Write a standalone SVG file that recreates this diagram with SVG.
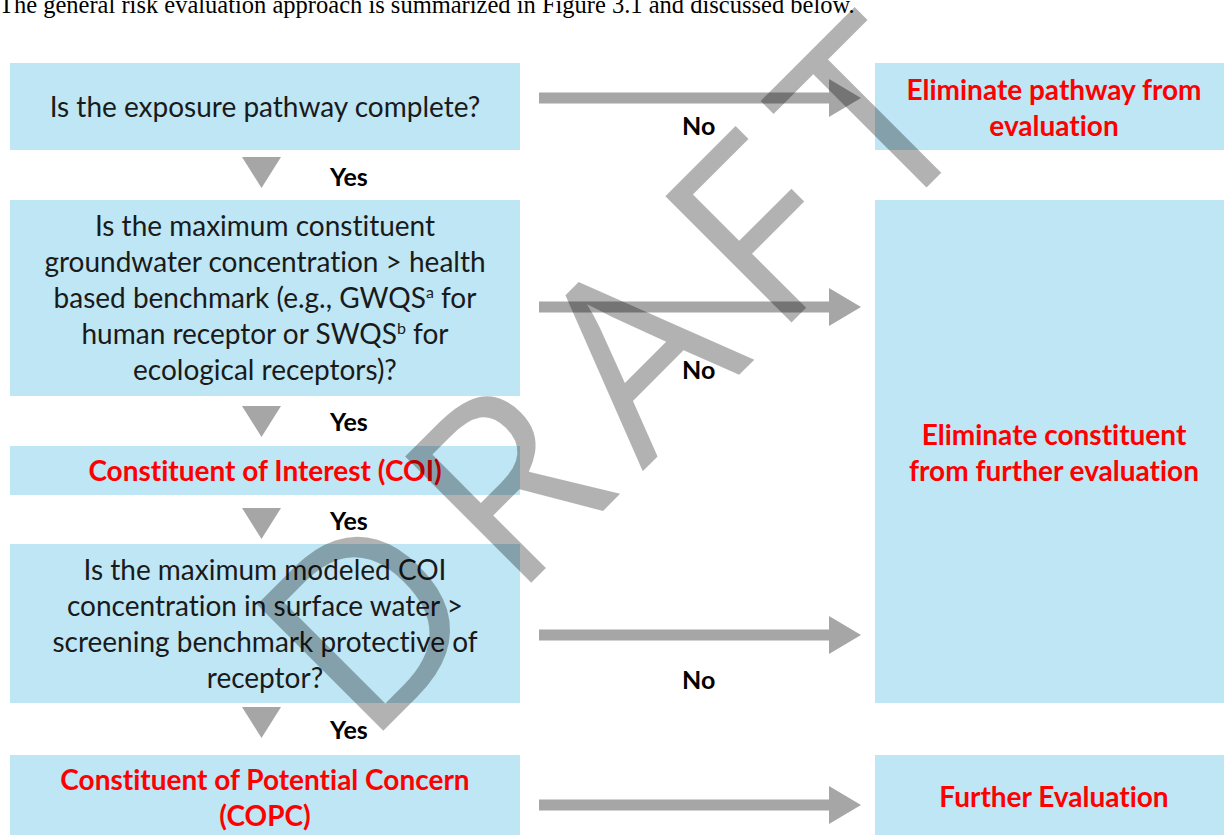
<svg xmlns="http://www.w3.org/2000/svg" xmlns:xlink="http://www.w3.org/1999/xlink" width="1224" height="835" viewBox="0 0 1224 835">
  <style>
    .box { fill: #BEE6F4; }
    .q { font-family: Lato, "Open Sans", "Liberation Sans", sans-serif; font-size: 28px; fill: #1a1a1a; text-anchor: middle; font-variant-ligatures: none; }
    .r { font-family: Lato, "Open Sans", "Liberation Sans", sans-serif; font-size: 28px; font-weight: bold; fill: #FF0000; text-anchor: middle; font-variant-ligatures: none; }
    .lbl { font-family: Lato, "Open Sans", "Liberation Sans", sans-serif; font-size: 25px; font-weight: bold; fill: #000; }
    .arw { fill: #A6A6A6; }
    .wm { font-family: "Open Sans", Lato, "Liberation Sans", sans-serif; font-weight: 400; font-size: 250px; fill: #000; fill-opacity: 0.3; }
    .cap { font-family: "Liberation Serif", serif; font-size: 24.5px; fill: #000; }
  </style>
  <defs>
    <path id="harrow" d="M0,-5.5 H290 V-19 L322,0 L290,19 V5.5 H0 Z"/>
    <path id="varrow" d="M0,0 H39 L19.5,31 Z"/>
  </defs>
  <rect width="1224" height="835" fill="#fff"/>
  <text class="cap" x="-1" y="13">The general risk evaluation approach is summarized in Figure 3.1 and discussed below.</text>

  <g id="n1">
    <rect class="box" x="10" y="63" width="510" height="87"/>
    <text class="q" x="265" y="117">Is the exposure pathway complete?</text>
  </g>
  <g id="n2">
    <rect class="box" x="875" y="63" width="349" height="87"/>
    <text class="r" x="1054" y="100">Eliminate pathway from</text>
    <text class="r" x="1054" y="136">evaluation</text>
  </g>
  <g id="n3">
    <rect class="box" x="10" y="200" width="510" height="196"/>
    <text class="q" x="265" y="236">Is the maximum constituent</text>
    <text class="q" x="265" y="272">groundwater concentration &gt; health</text>
    <text class="q" x="265" y="308">based benchmark (e.g., GWQS<tspan font-size="16" dy="-10">a</tspan><tspan dy="10"> for</tspan></text>
    <text class="q" x="265" y="344">human receptor or SWQS<tspan font-size="16" dy="-10">b</tspan><tspan dy="10"> for</tspan></text>
    <text class="q" x="265" y="380">ecological receptors)?</text>
  </g>
  <g id="n4">
    <rect class="box" x="875" y="200" width="349" height="503"/>
    <text class="r" x="1054" y="445">Eliminate constituent</text>
    <text class="r" x="1054" y="481">from further evaluation</text>
  </g>
  <g id="n5">
    <rect class="box" x="10" y="446" width="510" height="49"/>
    <text class="r" x="265" y="481">Constituent of Interest (COI)</text>
  </g>
  <g id="n6">
    <rect class="box" x="10" y="544" width="510" height="159"/>
    <text class="q" x="265" y="580">Is the maximum modeled COI</text>
    <text class="q" x="265" y="616">concentration in surface water &gt;</text>
    <text class="q" x="265" y="652">screening benchmark protective of</text>
    <text class="q" x="265" y="688">receptor?</text>
  </g>
  <g id="n7">
    <rect class="box" x="10" y="755" width="510" height="80"/>
    <text class="r" x="265" y="790">Constituent of Potential Concern</text>
    <text class="r" x="265" y="826">(COPC)</text>
  </g>
  <g id="n8">
    <rect class="box" x="875" y="755" width="349" height="80"/>
    <text class="r" x="1054" y="807">Further Evaluation</text>
  </g>

  <g id="connectors">
    <use xlink:href="#harrow" class="arw" x="539" y="98"/>
    <use xlink:href="#harrow" class="arw" x="539" y="307"/>
    <use xlink:href="#harrow" class="arw" x="539" y="635"/>
    <use xlink:href="#harrow" class="arw" x="539" y="805"/>
    <use xlink:href="#varrow" class="arw" x="242" y="157"/>
    <use xlink:href="#varrow" class="arw" x="242" y="406"/>
    <use xlink:href="#varrow" class="arw" x="242" y="508"/>
    <use xlink:href="#varrow" class="arw" x="242" y="707"/>
    <text class="lbl" x="330" y="186">Yes</text>
    <text class="lbl" x="330" y="431">Yes</text>
    <text class="lbl" x="330" y="530">Yes</text>
    <text class="lbl" x="330" y="739">Yes</text>
    <text class="lbl" x="682" y="135">No</text>
    <text class="lbl" x="682" y="379">No</text>
    <text class="lbl" x="682" y="689">No</text>
  </g>

  <text class="wm" x="366" y="748" textLength="872" lengthAdjust="spacing" transform="rotate(-45 366 748)">DRAFT</text>
</svg>
